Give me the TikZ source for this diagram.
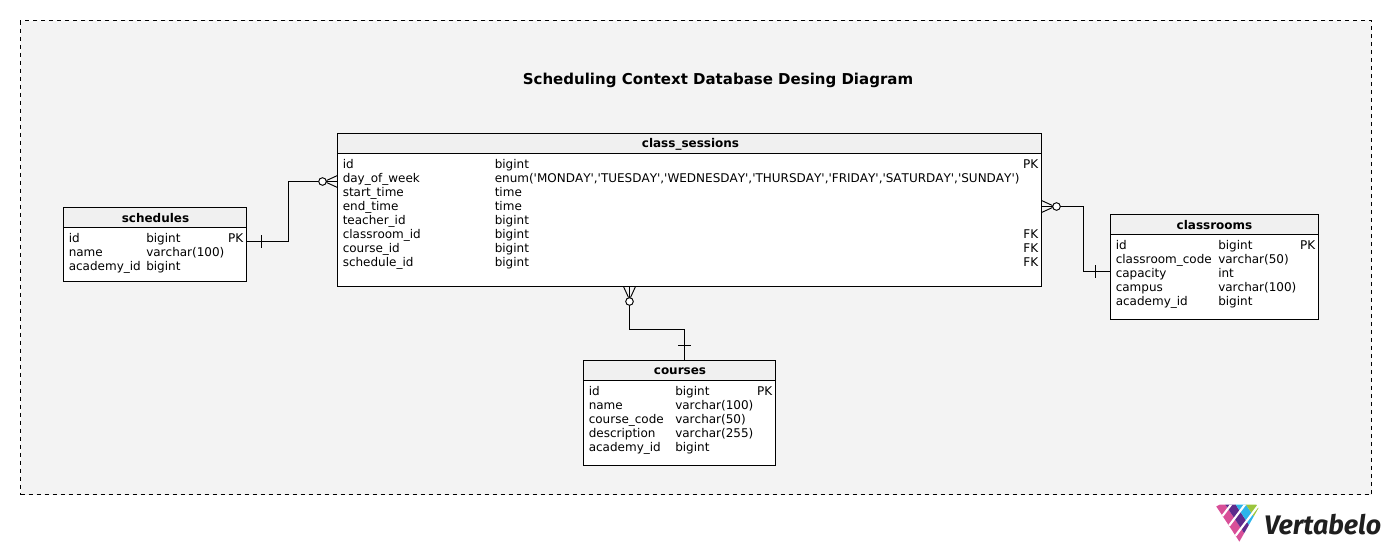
\documentclass[tikz,border=0pt]{standalone}
\usepackage{fontspec}
\newfontfamily\dbfont{DejaVu Sans}[Kerning=Off]
\newfontfamily\logofont{Fira Sans}[ItalicFont=* Bold Italic]
\usetikzlibrary{calc}
\definecolor{canvas}{HTML}{F3F3F3}
\definecolor{headfill}{HTML}{F0F0F0}
\definecolor{vpink}{HTML}{D84F98}
\definecolor{vpurple}{HTML}{5E2B8C}
\definecolor{vblue}{HTML}{2DB5EA}
\definecolor{vgreen}{HTML}{9BC53D}
\tikzset{
  x=0.75pt,y=-0.75pt,
  tablebox/.style={draw=black,line width=0.75pt,fill=white,anchor=north west,inner sep=0pt,outer sep=0pt},
  headbox/.style={draw=black,line width=0.75pt,fill=headfill,anchor=north west,inner sep=0pt,outer sep=0pt},
  headtext/.style={inner sep=0pt,font=\dbfont\fontsize{9pt}{10pt}\selectfont\bfseries},
  rowtext/.style={anchor=base west,inner sep=0pt,font=\dbfont\fontsize{9pt}{10pt}\selectfont},
  rowright/.style={anchor=base east,inner sep=0pt,font=\dbfont\fontsize{9pt}{10pt}\selectfont},
  link/.style={draw=black,line width=0.75pt},
  ring/.style={draw=black,line width=0.7pt,fill=white},
  foot/.style={draw=black,line width=0.7pt},
}
\newcommand{\tablebody}[5]{% name,x,y,w,h
  \node[tablebox,minimum width=#4*0.75pt,minimum height=#5*0.75pt] (#1) at (#2,#3) {};
  \node[headbox,minimum width=#4*0.75pt,minimum height=15pt] (#1head) at (#2,#3) {};
}
\newcommand{\logocell}[3]{% stripe k, column j, colour
  \fill[#3] ($(1216,506)+#1*(6.5,9.9)+#2*(5.5,-7.3)$) -- ++(6.5,9.9) -- ++(5.5,-7.3) -- ++(-6.5,-9.9) -- cycle;
}
\begin{document}
\begin{tikzpicture}
\useasboundingbox (0,0) rectangle (1391,554);
\node[draw=black,dashed,line width=0.75pt,fill=canvas,anchor=north west,inner sep=0pt,outer sep=0pt,minimum width=1351*0.75pt,minimum height=474*0.75pt] (frame) at (20.5,20.5) {};
\node[inner sep=0pt,font=\dbfont\fontsize{11.25pt}{12pt}\selectfont\bfseries] (title) at (718,80.5) {Scheduling Context Database Desing Diagram};

% class_sessions
\tablebody{sessions}{337.5}{133.5}{704}{153}
\node[headtext] (sessionsname) at (690.5,144) {class\_sessions};
\foreach \i/\a/\b/\c in {0/id/bigint/PK,1/day\_of\_week/{enum('MONDAY','TUESDAY','WEDNESDAY','THURSDAY','FRIDAY','SATURDAY','SUNDAY')}/,2/start\_time/time/,3/end\_time/time/,4/teacher\_id/bigint/,5/classroom\_id/bigint/FK,6/course\_id/bigint/FK,7/schedule\_id/bigint/FK}{
  \node[rowtext] (sa\i) at (342.5,168*1+14*\i) {\a};
  \node[rowtext] (sb\i) at (494.5,168*1+14*\i) {\b};
  \node[rowright] (sc\i) at (1038.5,168*1+14*\i) {\c};
}

% schedules
\tablebody{schedules}{63.5}{207.5}{183}{74}
\node[headtext] (schedulesname) at (155.5,218) {schedules};
\foreach \i/\a/\b/\c in {0/id/bigint/PK,1/name/varchar(100)/,2/academy\_id/bigint/}{
  \node[rowtext] (ha\i) at (68.5,242+14*\i) {\a};
  \node[rowtext] (hb\i) at (146,242+14*\i) {\b};
  \node[rowright] (hc\i) at (243.5,242+14*\i) {\c};
}

% classrooms
\tablebody{classrooms}{1110.5}{214.5}{208}{105}
\node[headtext] (classroomsname) at (1214.5,225) {classrooms};
\foreach \i/\a/\b/\c in {0/id/bigint/PK,1/classroom\_code/varchar(50)/,2/capacity/int/,3/campus/varchar(100)/,4/academy\_id/bigint/}{
  \node[rowtext] (ra\i) at (1115.5,249+14*\i) {\a};
  \node[rowtext] (rb\i) at (1218,249+14*\i) {\b};
  \node[rowright] (rc\i) at (1315.5,249+14*\i) {\c};
}

% courses
\tablebody{courses}{583.5}{360.5}{192}{105}
\node[headtext] (coursesname) at (680,371) {courses};
\foreach \i/\a/\b/\c in {0/id/bigint/PK,1/name/varchar(100)/,2/course\_code/varchar(50)/,3/description/varchar(255)/,4/academy\_id/bigint/}{
  \node[rowtext] (ca\i) at (588.5,395+14*\i) {\a};
  \node[rowtext] (cb\i) at (675,395+14*\i) {\b};
  \node[rowright] (cc\i) at (772.5,395+14*\i) {\c};
}

% connector end points on the table borders
\coordinate (l1a) at (schedules.east |- 0,241.5);
\coordinate (l1b) at (sessions.west |- 0,181.5);
\coordinate (l2a) at (classrooms.west |- 0,271.5);
\coordinate (l2b) at (sessions.east |- 0,206.5);
\coordinate (l3a) at (courses.north -| 684.5,0);
\coordinate (l3b) at (sessions.south -| 629.5,0);

% schedules -- class_sessions
\draw[link] (l1a) -- (288.5,241.5) -- (288.5,181.5) -- (l1b);
\draw[foot] ($(l1a)+(15,-6.5)$) -- ($(l1a)+(15,6.5)$);
\draw[foot] ($(l1b)+(-11,-1)$) -- ($(l1b)+(0,-6)$) ($(l1b)+(-11,1)$) -- ($(l1b)+(0,6)$);
\draw[ring] ($(l1b)+(-15,0)$) circle[radius=3.8];

% classrooms -- class_sessions
\draw[link] (l2a) -- (1083.5,271.5) -- (1083.5,206.5) -- (l2b);
\draw[foot] ($(l2a)+(-15,-6.5)$) -- ($(l2a)+(-15,6.5)$);
\draw[foot] ($(l2b)+(11,-1)$) -- ($(l2b)+(0,-6)$) ($(l2b)+(11,1)$) -- ($(l2b)+(0,6)$);
\draw[ring] ($(l2b)+(15,0)$) circle[radius=3.8];

% courses -- class_sessions
\draw[link] (l3a) -- (684.5,329.5) -- (629.5,329.5) -- (l3b);
\draw[foot] ($(l3a)+(-6.5,-15)$) -- ($(l3a)+(6.5,-15)$);
\draw[foot] ($(l3b)+(-1,11)$) -- ($(l3b)+(-6,0)$) ($(l3b)+(1,11)$) -- ($(l3b)+(6,0)$);
\draw[ring] ($(l3b)+(0,15)$) circle[radius=3.8];

% logo
\begin{scope}
\clip (1216,506.5) -- (1220,504.5) -- (1260.5,504.5) -- (1238,544) -- cycle;
\logocell{0}{0}{vpink}
\logocell{0}{1}{vpurple}
\logocell{1}{0}{vpink}
\logocell{1}{1}{vpurple}
\logocell{1}{2}{vblue}
\logocell{2}{0}{vpink}
\logocell{2}{1}{vpurple}
\logocell{2}{2}{vblue}
\logocell{2}{3}{vgreen}
\logocell{3}{0}{vpink}
\logocell{3}{1}{vpurple}
\logocell{3}{2}{vblue}
\logocell{3}{3}{vgreen}
\foreach \k in {1,2,3}{
  \draw[white,line width=1.6pt] ($(1216,506)+\k*(6.5,9.9)$) -- ++(27.5,-36.5);
}
\end{scope}
\node[anchor=base west,inner sep=0pt,font=\logofont\itshape\fontsize{20.1pt}{22pt}\selectfont,text=black!88] (logo) at (1264,534) {Vertabelo};
\end{tikzpicture}
\end{document}
